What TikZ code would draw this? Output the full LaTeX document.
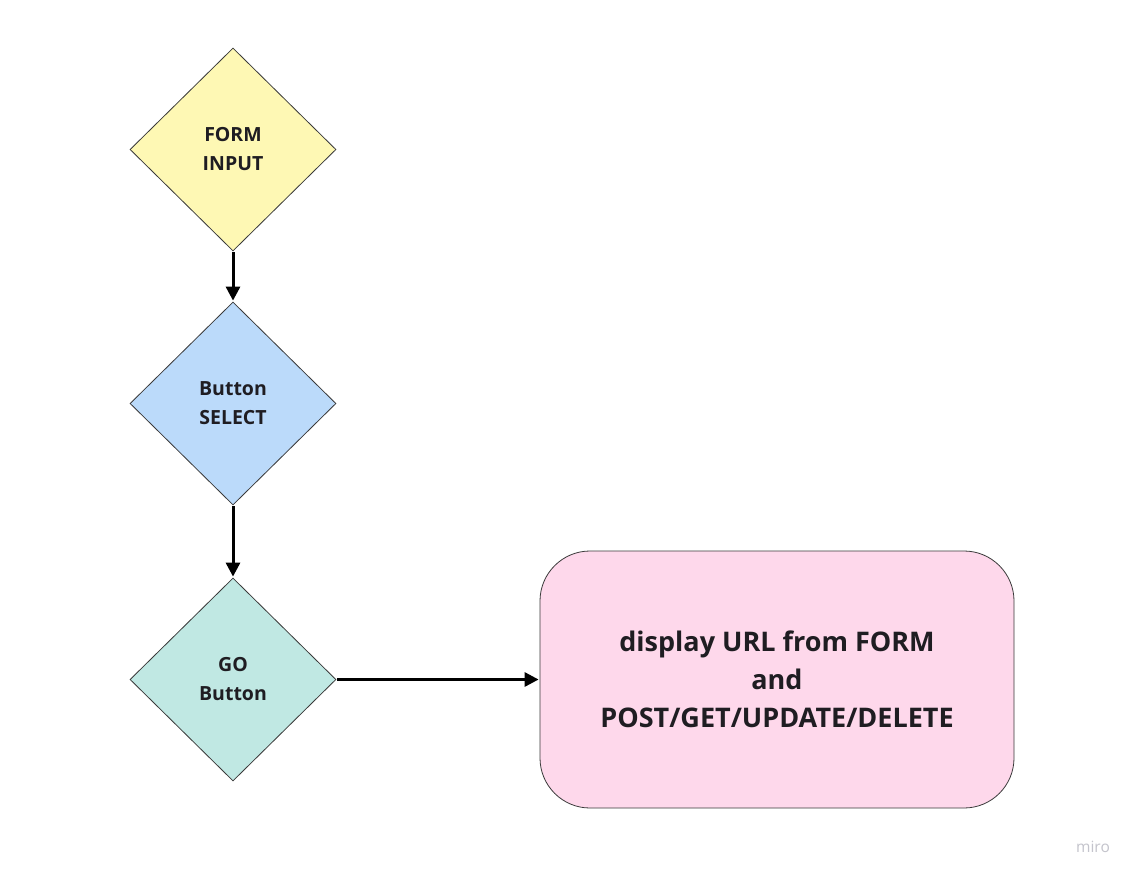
\documentclass[tikz,border=0pt]{standalone}
\usepackage{fontspec}
\setmainfont{Open Sans}
\usetikzlibrary{shapes.geometric,arrows.meta}
\definecolor{cyellow}{HTML}{FEF8B4}
\definecolor{cblue}{HTML}{BBDAFA}
\definecolor{cteal}{HTML}{C0E8E3}
\definecolor{cpink}{HTML}{FED8EB}
\definecolor{ctext}{HTML}{1F1D22}
\definecolor{cedge}{HTML}{3A3A3A}
\definecolor{cmiro}{HTML}{C4C4CC}
\begin{document}
\begin{tikzpicture}[x=1pt,y=-1pt,
  dia/.style={diamond,draw=cedge,line width=0.8pt,minimum width=206pt,minimum height=203pt,inner sep=0pt,
    align=center,font=\fontsize{19.5}{29}\selectfont\bfseries,text=ctext,aspect=1},
  boxnode/.style={draw=cedge,line width=0.8pt,rounded corners=50pt,fill=cpink,minimum width=474pt,minimum height=257pt,
    align=center,font=\fontsize{27}{38}\selectfont\bfseries,text=ctext},
  conn/.style={line width=3pt,-{Triangle[length=14pt,width=14pt]},shorten >=1pt,shorten <=1pt}]
\useasboundingbox (0,0) rectangle (1137,878);
\fill[white] (0,0) rectangle (1137,878);
\node[dia,fill=cyellow] (form) at (233,149.5) {FORM\\INPUT};
\node[dia,fill=cblue] (sel) at (233,403.5) {Button\\SELECT};
\node[dia,fill=cteal] (go) at (233,679.5) {GO\\Button};
\node[boxnode] (disp) at (777,679.5) {display URL from FORM\\and\\POST/GET/UPDATE/DELETE};
\draw[conn] (form.south) -- (sel.north);
\draw[conn] (sel.south) -- (go.north);
\draw[conn] (go.east) -- (disp.west);
\node[text=cmiro,font=\fontsize{15.5}{17}\selectfont,anchor=center] (miro) at (1093,847) {miro};
\end{tikzpicture}
\end{document}
